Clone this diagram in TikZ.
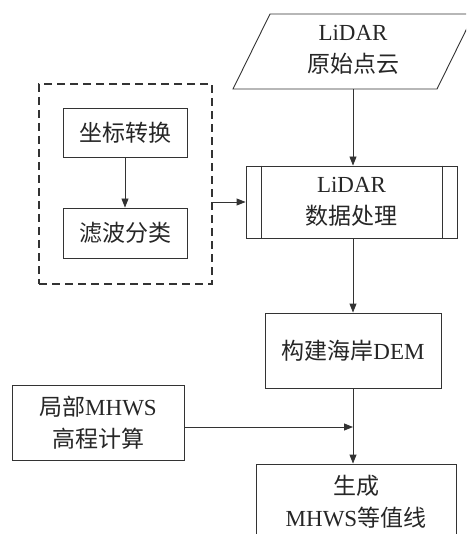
\documentclass[tikz,border=0pt]{standalone}
\usepackage{fontspec}
\setmainfont{Liberation Serif}
\newfontfamily\cjk{Noto Sans CJK SC}
\newcommand{\zh}[1]{{\cjk #1}}
\usetikzlibrary{arrows.meta}
\begin{document}
\begin{tikzpicture}[x=1pt,y=-1pt,
  line/.style={draw=black!80, line width=0.9pt},
  box/.style={line, rectangle, inner sep=0pt},
  arr/.style={draw=black!80, line width=0.9pt, -{Triangle[length=9pt,width=7pt]}},
  lbl/.style={font=\fontsize{23}{32}\selectfont, align=center, text=black!85}]
\clip (0,0) rectangle (466,534);
\useasboundingbox (0,0) rectangle (466,534);

% raw point cloud (parallelogram)
\draw[line] (270,14) -- (474,14) -- (437,89) -- (233,89) -- cycle;
\node[lbl, inner sep=0pt, minimum height=75pt] (raw) at (353,50) {LiDAR\\\zh{原始点云}};

% processing box
\node[box, lbl, minimum width=211pt, minimum height=72pt] (proc) at (351.5,202) {LiDAR\\\zh{数据处理}};
\draw[line] ([xshift=16pt]proc.north west) -- ([xshift=16pt]proc.south west);
\draw[line] ([xshift=-15pt]proc.north east) -- ([xshift=-15pt]proc.south east);

% dashed group
\node[box, dash pattern=on 8pt off 5pt, line width=1.1pt, minimum width=173pt, minimum height=200pt] (grp) at (125.5,184) {};
\node[box, lbl, minimum width=124pt, minimum height=49pt] (coord) at (125,132.5) {\zh{坐标转换}};
\node[box, lbl, minimum width=124pt, minimum height=50pt] (filt) at (125,233) {\zh{滤波分类}};

% DEM
\node[box, lbl, minimum width=176pt, minimum height=75pt] (dem) at (353,350.5) {\zh{构建海岸}DEM};

% local MHWS
\node[box, lbl, minimum width=172pt, minimum height=75pt] (calc) at (98,422.5) {\zh{局部}MHWS\\\zh{高程计算}};

% generate contour
\node[box, minimum width=200pt, minimum height=100pt] (gen) at (356,514) {};
\node[lbl, inner sep=0pt] (gentext) at (356,501.5) {\zh{生成}\\MHWS\zh{等值线}};

% connectors
\draw[arr] (raw.south |- 0,89) -- (raw.south |- proc.north);
\draw[arr] (coord.south) -- (filt.north);
\draw[arr] (grp.east |- proc.west) -- (proc.west);
\draw[arr] (proc.south -| dem.north) -- (dem.north);
\draw[arr] (dem.south) -- (dem.south |- gen.north);
\coordinate (h) at ([yshift=-4.5pt]calc.east);
\draw[arr] (h) -- (h -| dem.south);
\end{tikzpicture}
\end{document}
